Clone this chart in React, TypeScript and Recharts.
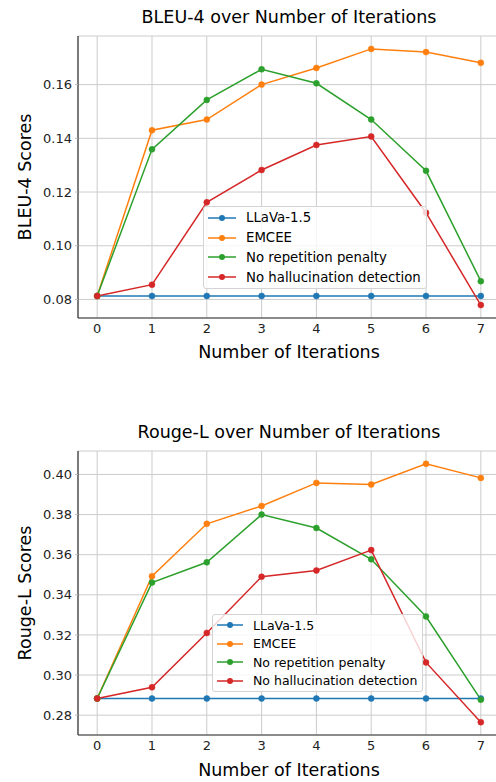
import { LineChart, Line, XAxis, YAxis, CartesianGrid, Legend, Label } from 'recharts'

const FONT = '"DejaVu Sans", sans-serif'

const iterations = [0, 1, 2, 3, 4, 5, 6, 7]

const seriesKeys = ['llava', 'emcee', 'noRep', 'noHal']
const seriesNames = ['LLaVa-1.5', 'EMCEE', 'No repetition penalty', 'No hallucination detection']
const seriesColors = ['#1f77b4', '#ff7f0e', '#2ca02c', '#d62728']

const bleuLlava = [0.0813, 0.0813, 0.0813, 0.0813, 0.0813, 0.0813, 0.0813, 0.0813]
const bleuEmcee = [0.0813, 0.143, 0.147, 0.16, 0.1662, 0.1733, 0.1721, 0.1681]
const bleuNoRep = [0.0813, 0.1359, 0.1543, 0.1657, 0.1605, 0.147, 0.1279, 0.0868]
const bleuNoHal = [0.0813, 0.0855, 0.1162, 0.1282, 0.1375, 0.1407, 0.1123, 0.0779]
const bleuTicks = [0.08, 0.1, 0.12, 0.14, 0.16]

const rougeLlava = [0.2883, 0.2883, 0.2883, 0.2883, 0.2883, 0.2883, 0.2883, 0.2883]
const rougeEmcee = [0.2883, 0.3493, 0.3754, 0.3843, 0.3958, 0.395, 0.4053, 0.3983]
const rougeNoRep = [0.2883, 0.3461, 0.3562, 0.38, 0.3733, 0.3577, 0.3292, 0.2877]
const rougeNoHal = [0.2883, 0.2939, 0.321, 0.349, 0.3521, 0.3623, 0.3063, 0.2765]
const rougeTicks = [0.28, 0.3, 0.32, 0.34, 0.36, 0.38, 0.4]

function buildRows(cols: number[][]) {
  return iterations.map((it, i) => {
    const row: Record<string, number> = { iteration: it }
    seriesKeys.forEach((k, j) => {
      row[k] = cols[j][i]
    })
    return row
  })
}

const bleuRows = buildRows([bleuLlava, bleuEmcee, bleuNoRep, bleuNoHal])
const rougeRows = buildRows([rougeLlava, rougeEmcee, rougeNoRep, rougeNoHal])

interface PanelProps {
  title: string
  yLabel: string
  rows: Record<string, number>[]
  yDomain: [number, number]
  yTicks: number[]
  top: number
  plotTop: number
  xAxisHeight: number
  titleTop: number
  xLabelOffset: number
  legend: { left: number; top: number; rowH: number; sample: number; fontSize: number }
}

// rotated y label, centred on the plot height
const yLabelContent = (text: string) => (props: any) => {
  const vb = props.viewBox || { x: 0, y: 0, width: 78, height: 280 }
  const cx = vb.x + 25
  const cy = vb.y + vb.height / 2
  return (
    <text
      x={cx}
      y={cy}
      transform={`rotate(-90 ${cx} ${cy})`}
      textAnchor="middle"
      dominantBaseline="central"
      fontFamily={FONT}
      fontSize={17.5}
      fill="#000"
    >
      {text}
    </text>
  )
}

function LegendBox({ payload, rowH, sample, fontSize }: any) {
  // keep the plotting order, not the alphabetical one
  const items = [...(payload || [])].sort(
    (a: any, b: any) => seriesNames.indexOf(a.value) - seriesNames.indexOf(b.value),
  )
  return (
    <div
      style={{
        background: 'rgba(255,255,255,0.8)',
        border: '1px solid #d4d4d4',
        borderRadius: 3,
        padding: '1px 5px 1px 4px',
        fontFamily: FONT,
        fontSize,
        color: '#000',
        display: 'inline-block',
      }}
    >
      {items.map((p: any) => (
        <div key={p.value} style={{ display: 'flex', alignItems: 'center', height: rowH }}>
          <svg width={sample} height={10} style={{ display: 'block' }}>
            <line x1={0} y1={5} x2={sample} y2={5} stroke={p.color} strokeWidth={1.5} />
            <circle cx={sample / 2} cy={5} r={3} fill={p.color} />
          </svg>
          <span style={{ marginLeft: 10, whiteSpace: 'nowrap' }}>{p.value}</span>
        </div>
      ))}
    </div>
  )
}

function Panel(props: PanelProps) {
  const { legend } = props
  return (
    <div style={{ position: 'absolute', left: 0, top: props.top, width: 520, height: 391 }}>
      <div
        style={{
          position: 'absolute',
          left: 78,
          width: 422,
          top: props.titleTop,
          textAlign: 'center',
          fontFamily: FONT,
          fontSize: 17.5,
          lineHeight: '20px',
          color: '#000',
          zIndex: 2,
        }}
      >
        {props.title}
      </div>
      <LineChart
        width={520}
        height={391}
        data={props.rows}
        margin={{ top: props.plotTop, right: 20, bottom: 0, left: 0 }}
      >
        <CartesianGrid stroke="#cccccc" strokeWidth={1} />
        <XAxis
          dataKey="iteration"
          type="number"
          domain={[-0.35, 7.35]}
          ticks={iterations}
          height={props.xAxisHeight}
          tickLine={false}
          tickSize={3}
          tickMargin={3}
          axisLine={{ stroke: '#333', strokeWidth: 1.2 }}
          tick={{ fontFamily: FONT, fontSize: 13, fill: '#222' }}
        >
          <Label
            value="Number of Iterations"
            position="insideTop"
            offset={props.xLabelOffset}
            style={{ fontFamily: FONT, fontSize: 17.5, fill: '#000' }}
          />
        </XAxis>
        <XAxis
          xAxisId="top"
          orientation="top"
          type="number"
          domain={[-0.35, 7.35]}
          height={0}
          tick={false}
          tickLine={false}
          axisLine={{ stroke: '#555', strokeWidth: 1.2 }}
        />
        <YAxis
          type="number"
          domain={props.yDomain}
          ticks={props.yTicks}
          width={78}
          tickFormatter={(v: number) => v.toFixed(2)}
          tickSize={3}
          tickMargin={3}
          tickLine={{ stroke: '#bbb' }}
          axisLine={{ stroke: '#333', strokeWidth: 1.2 }}
          tick={{ fontFamily: FONT, fontSize: 13, fill: '#222' }}
          allowDataOverflow
        >
          <Label content={yLabelContent(props.yLabel)} />
        </YAxis>
        {seriesKeys.map((k, i) => (
          <Line
            key={k}
            type="linear"
            dataKey={k}
            name={seriesNames[i]}
            stroke={seriesColors[i]}
            strokeWidth={1.5}
            dot={{ r: 3, fill: seriesColors[i], stroke: seriesColors[i], strokeWidth: 0.5 }}
            activeDot={false}
            isAnimationActive={false}
          />
        ))}
        <Legend
          layout="vertical"
          align="center"
          verticalAlign="middle"
          wrapperStyle={{ left: legend.left, top: legend.top, width: 'auto' }}
          content={(p: any) => (
            <LegendBox payload={p.payload} rowH={legend.rowH} sample={legend.sample} fontSize={legend.fontSize} />
          )}
        />
      </LineChart>
    </div>
  )
}

export default function App() {
  return (
    <div
      style={{
        position: 'absolute',
        left: 0,
        top: 0,
        width: 496,
        height: 782,
        overflow: 'hidden',
        background: '#fff',
      }}
    >
      <Panel
        title="BLEU-4 over Number of Iterations"
        yLabel="BLEU-4 Scores"
        rows={bleuRows}
        yDomain={[0.0731, 0.1781]}
        yTicks={bleuTicks}
        top={0}
        plotTop={36}
        xAxisHeight={73}
        titleTop={7}
        xLabelOffset={28}
        legend={{ left: 203, top: 206, rowH: 19.8, sample: 28, fontSize: 13.3 }}
      />
      <Panel
        title="Rouge-L over Number of Iterations"
        yLabel="Rouge-L Scores"
        rows={rougeRows}
        yDomain={[0.2701, 0.4117]}
        yTicks={rougeTicks}
        top={391}
        plotTop={60}
        xAxisHeight={47}
        titleTop={31}
        xLabelOffset={29}
        legend={{ left: 212, top: 223, rowH: 18.5, sample: 26, fontSize: 12.5 }}
      />
    </div>
  )
}
